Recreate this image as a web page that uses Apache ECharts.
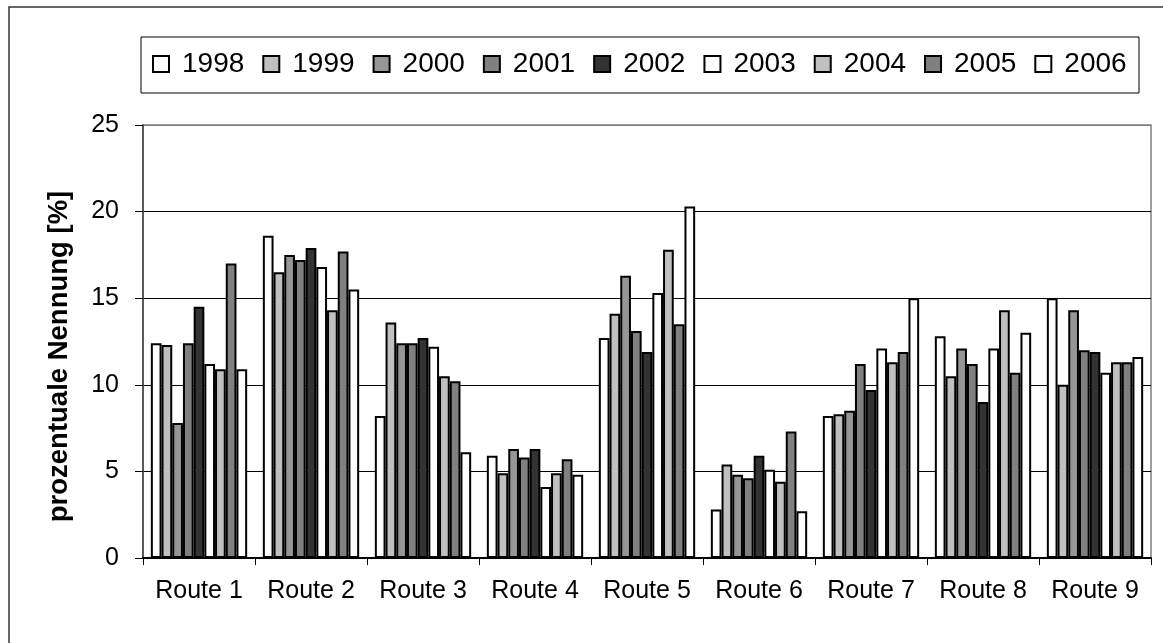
<!DOCTYPE html>
<html>
<head>
<meta charset="utf-8">
<script src="https://cdn.jsdelivr.net/npm/echarts@6/dist/echarts.min.js"></script>
<style>html,body{margin:0;padding:0;background:#fff}#c{width:1163px;height:643px}</style>
</head>
<body>
<div id="c"></div>
<script>
const categories = ['Route 1','Route 2','Route 3','Route 4','Route 5','Route 6','Route 7','Route 8','Route 9'];
const years = ['1998','1999','2000','2001','2002','2003','2004','2005','2006'];
const yearColors = ['#FFFFFF','#C0C0C0','#969696','#808080','#333333','#FFFFFF','#C0C0C0','#808080','#FFFFFF'];
const v1998 = [12.4, 18.6, 8.2, 5.9, 12.7, 2.8, 8.2, 12.8, 15.0];
const v1999 = [12.3, 16.5, 13.6, 4.9, 14.1, 5.4, 8.3, 10.5, 10.0];
const v2000 = [7.8, 17.5, 12.4, 6.3, 16.3, 4.8, 8.5, 12.1, 14.3];
const v2001 = [12.4, 17.2, 12.4, 5.8, 13.1, 4.6, 11.2, 11.2, 12.0];
const v2002 = [14.5, 17.9, 12.7, 6.3, 11.9, 5.9, 9.7, 9.0, 11.9];
const v2003 = [11.2, 16.8, 12.2, 4.1, 15.3, 5.1, 12.1, 12.1, 10.7];
const v2004 = [10.9, 14.3, 10.5, 4.9, 17.8, 4.4, 11.3, 14.3, 11.3];
const v2005 = [17.0, 17.7, 10.2, 5.7, 13.5, 7.3, 11.9, 10.7, 11.3];
const v2006 = [10.9, 15.5, 6.1, 4.8, 20.3, 2.7, 15.0, 13.0, 11.6];
const seriesValues = [v1998, v1999, v2000, v2001, v2002, v2003, v2004, v2005, v2006];
const yTicks = [0, 5, 10, 15, 20, 25];

const chart = echarts.init(document.getElementById('c'), null, {renderer: 'canvas'});
const font = 'Liberation Sans, Arial, sans-serif';
chart.setOption({
  animation: false,
  backgroundColor: '#fff',
  graphic: [
    {type: 'rect', shape: {x: 9, y: 7, width: 1170, height: 650}, style: {fill: 'none', stroke: '#333', lineWidth: 1.5}, z: 0},
    {type: 'rect', shape: {x: 141, y: 37, width: 998, height: 56}, style: {fill: 'none', stroke: '#000', lineWidth: 1}, z: 0}
  ],
  legend: {
    data: years.map(y => ({name: y, icon: 'rect'})),
    left: 152, top: 50,
    itemWidth: 16, itemHeight: 16, itemGap: 18,
    padding: 0,
    textStyle: {fontFamily: font, fontSize: 28, color: '#000', padding: [0, 0, 0, 8], lineHeight: 28},
    itemStyle: {borderColor: '#000', borderWidth: 2}
  },
  grid: {left: 143, top: 125, right: 12, bottom: 85, show: true, borderColor: '#808080', borderWidth: 1.5, backgroundColor: 'transparent'},
  xAxis: {
    type: 'category',
    data: categories,
    axisLine: {lineStyle: {color: '#000', width: 2}},
    axisTick: {show: true, length: 7, lineStyle: {color: '#000', width: 1}},
    axisLabel: {fontFamily: font, fontSize: 25, color: '#000', margin: 21, interval: 0, hideOverlap: false}
  },
  yAxis: {
    type: 'value',
    min: yTicks[0], max: yTicks[yTicks.length - 1], interval: 5,
    name: 'prozentuale Nennung [%]',
    nameLocation: 'middle', nameRotate: 90, nameGap: 70,
    nameTextStyle: {fontFamily: font, fontSize: 27.5, fontWeight: 'bold', color: '#000', padding: [0, 30, 0, 0]},
    axisLine: {show: true, lineStyle: {color: '#404040', width: 1.5}},
    axisTick: {show: true, length: 8, lineStyle: {color: '#000', width: 1}},
    axisLabel: {fontFamily: font, fontSize: 25, color: '#000', margin: 24},
    splitLine: {show: true, lineStyle: {color: ['#000', '#000', '#000', '#000', '#000', '#808080'], width: 1}}
  },
  series: years.map((y, i) => ({
    name: y,
    type: 'bar',
    data: seriesValues[i],
    barGap: '0%',
    barCategoryGap: '14%',
    itemStyle: {color: yearColors[i], borderColor: '#000', borderWidth: 2}
  }))
});
</script>
</body>
</html>
